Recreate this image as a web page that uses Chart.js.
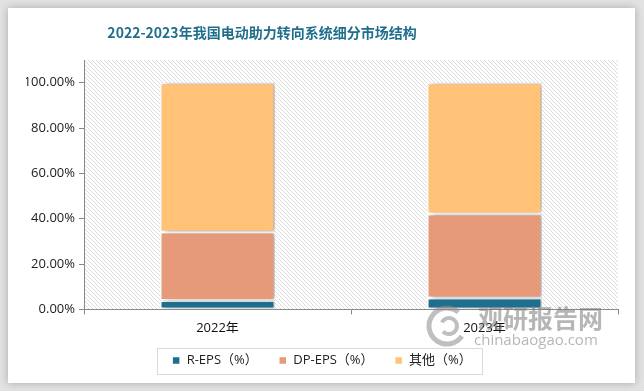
<!DOCTYPE html>
<html>
<head>
<meta charset="utf-8">
<script src="https://cdn.jsdelivr.net/npm/chart.js@4/dist/chart.umd.min.js"></script>
<style>
  html, body { margin: 0; padding: 0; background: #fff; }
  #wrap { width: 644px; height: 391px; position: relative; }
</style>
</head>
<body>
<div id="wrap"><canvas id="myChart" width="644" height="391"></canvas></div>
<script>
const years = ['2022年', '2023年'];
const rEps = [3.9, 5.0];
const dpEps = [30.2, 37.1];
const other = [65.9, 57.9];
const yTicks = [0, 20, 40, 60, 80, 100];
const titleText = '2022-2023年我国电动助力转向系统细分市场结构';

const font = "'Open Sans', 'Noto Sans CJK SC', sans-serif";

// hatch pattern for the plot area
function hatch() {
  const c = document.createElement('canvas');
  c.width = 4; c.height = 4;
  const g = c.getContext('2d');
  g.fillStyle = '#fff';
  g.fillRect(0, 0, 4, 4);
  g.fillStyle = '#dcdcdc';
  for (let i = 0; i < 4; i++) g.fillRect(i, i, 1, 1);
  return g.createPattern(c, 'repeat');
}

const frame = {
  id: 'frame',
  beforeDraw(chart) {
    const ctx = chart.ctx, a = chart.chartArea;
    ctx.save();
    ctx.fillStyle = '#e2e2e2';
    ctx.fillRect(0, 0, 644, 391);
    ctx.shadowColor = 'rgba(0,0,0,0.25)';
    ctx.shadowBlur = 8;
    ctx.fillStyle = '#fff';
    ctx.fillRect(8, 8, 627, 375);
    ctx.shadowColor = 'transparent';
    ctx.fillStyle = hatch();
    ctx.fillRect(a.left, a.top, a.right - a.left, a.bottom - a.top);
    // title
    ctx.fillStyle = '#1f6e8c';
    ctx.font = "bold 14px 'Noto Sans CJK SC', serif";
    ctx.textAlign = 'center';
    ctx.textBaseline = 'middle';
    ctx.fillText(titleText, 262, 33);
    ctx.restore();
  },
  beforeDatasetsDraw(chart) {
    const ctx = chart.ctx;
    ctx.save();
    ctx.shadowColor = 'rgba(0,0,0,0.35)';
    ctx.shadowBlur = 5;
    ctx.shadowOffsetX = 3;
  },
  afterDatasetsDraw(chart) {
    chart.ctx.restore();
  },
  afterDraw(chart) {
    const ctx = chart.ctx;
    ctx.save();
    // legend border
    ctx.strokeStyle = '#d9d9d9';
    ctx.lineWidth = 1;
    ctx.strokeRect(157.5, 348.5, 325, 26);
    // watermark
    ctx.globalAlpha = 0.55;
    ctx.strokeStyle = '#8a8a8a';
    ctx.lineWidth = 5;
    ctx.beginPath();
    ctx.arc(447, 326, 18, 0.6, 5.4);
    ctx.stroke();
    ctx.lineWidth = 4;
    ctx.beginPath();
    ctx.arc(449, 326, 8, 3.6, 2.4);
    ctx.stroke();
    ctx.fillStyle = '#7a7a7a';
    ctx.font = "bold 25px 'Noto Sans CJK SC', sans-serif";
    ctx.textAlign = 'left';
    ctx.textBaseline = 'middle';
    ctx.fillText('观研报告网', 478, 318);
    ctx.font = "15px 'Open Sans', sans-serif";
    ctx.fillText('chinabaogao.com', 474, 341);
    ctx.restore();
  }
};

new Chart('myChart', {
  type: 'bar',
  data: {
    labels: years,
    datasets: [
      { label: 'R-EPS（%）', data: rEps, backgroundColor: '#1d6e8f' },
      { label: 'DP-EPS（%）', data: dpEps, backgroundColor: '#e69a7a' },
      { label: '其他（%）', data: other, backgroundColor: '#ffc277' }
    ].map(d => Object.assign(d, {
      borderColor: '#fff', borderWidth: 1.5, borderSkipped: false,
      barPercentage: 0.43, categoryPercentage: 1
    }))
  },
  options: {
    responsive: false,
    animation: false,
    layout: { padding: { left: 26, right: 26, top: 60, bottom: 14 } },
    plugins: {
      title: { display: false },
      tooltip: { enabled: false },
      legend: {
        position: 'bottom',
        labels: {
          boxWidth: 8, boxHeight: 8, padding: 21,
          color: '#222', font: { family: font, size: 13 }
        }
      }
    },
    scales: {
      x: {
        stacked: true,
        offset: true,
        afterFit: s => { s.height = s.height - 9; },
        grid: { offset: true, drawOnChartArea: false, tickLength: 5, color: '#888' },
        border: { color: '#888' },
        ticks: { color: '#111', font: { family: font, size: 13 }, padding: 6 }
      },
      y: {
        stacked: true,
        min: 0, max: 110,
        afterBuildTicks: s => { s.ticks = yTicks.map(v => ({ value: v })); },
        afterFit: s => { s.width = 58; },
        grid: { drawOnChartArea: false, tickLength: 5, color: '#888' },
        border: { color: '#888' },
        ticks: {
          color: '#222', font: { family: font, size: 13 }, padding: 4,
          callback: v => v.toFixed(2) + '%'
        }
      }
    }
  },
  plugins: [frame]
});
</script>
</body>
</html>
